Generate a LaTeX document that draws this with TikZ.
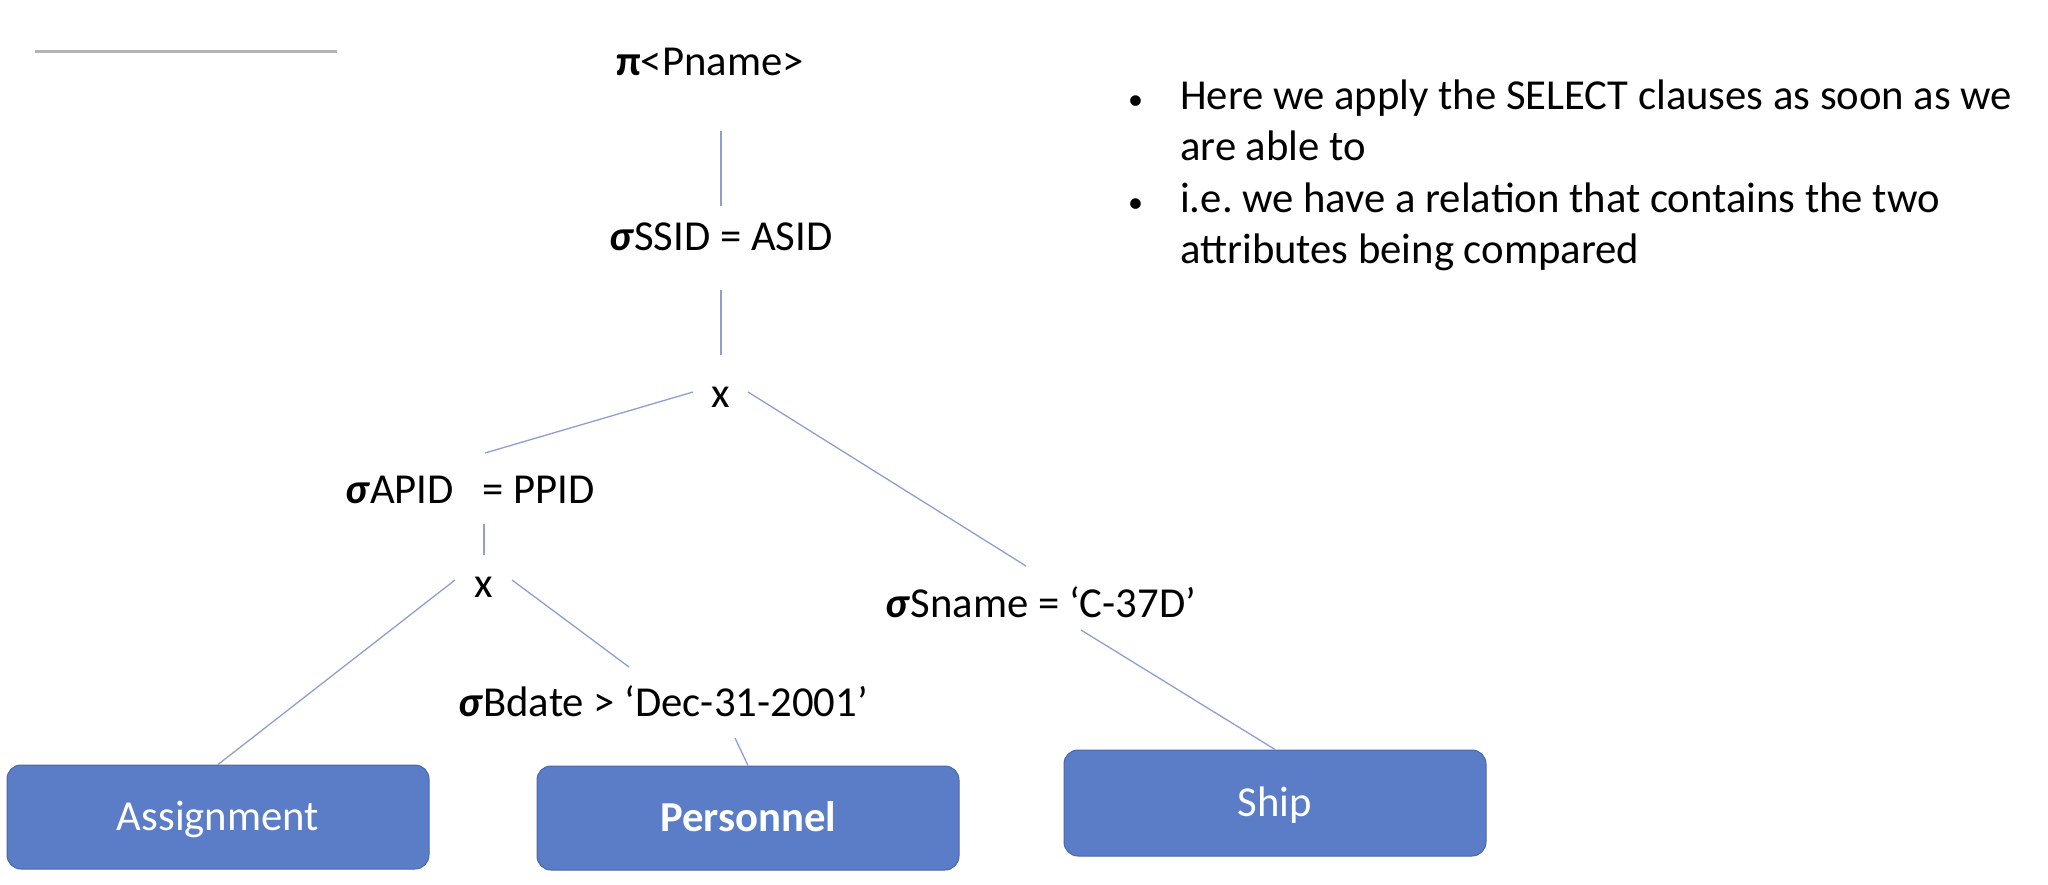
\documentclass[tikz,border=0pt]{standalone}
\usepackage{fontspec}
\setmainfont{Carlito}
\usetikzlibrary{shapes,arrows,positioning}

\definecolor{relfill}{HTML}{5B7CC6}
\definecolor{relborder}{HTML}{4A67A8}
\definecolor{linkcol}{HTML}{8E9FCF}
\definecolor{rulegray}{HTML}{B4B4B4}

\newcommand{\notebullet}{\makebox[56pt][l]{\hspace{4pt}\fontsize{30}{30}\selectfont\textbullet}}

\begin{document}
\frenchspacing
\begin{tikzpicture}[x=1pt, y=1pt,
    expr/.style={inner sep=0pt, anchor=base, font=\fontsize{42.7}{52}\selectfont},
    relation/.style={rectangle, rounded corners=14pt, draw=relborder, line width=1pt, fill=relfill, text=white, minimum width=422pt, minimum height=104pt, text height=27.5pt, text depth=0pt, font=\fontsize{42.7}{52}\selectfont},
    notes/.style={inner sep=0pt, anchor=base west, align=left, font=\fontsize{42.7}{51}\selectfont},
    link/.style={draw=linkcol, line width=1.3pt}]
    \useasboundingbox (0,0) rectangle (2048,-884);

    % title rule
    \draw[rulegray, line width=3pt] (35,-51) -- (337,-51);

    % Query tree
    \node[expr] (proj) at (710,-75) {\textbf{π}<Pname>};
    \node[expr] (selssid) at (721,-250) {\textbf{\textit{σ}}SSID = ASID};
    \node[expr] (crossA) at (721,-407) {x};
    \node[expr] (selapid) at (470,-503) {\textbf{\textit{σ}}APID\ \ \ = PPID};
    \node[expr] (crossB) at (484,-597) {x};
    \node[expr] (selbdate) at (663,-716) {\textbf{\textit{σ}}Bdate > ‘Dec-31-2001’};
    \node[expr] (selsname) at (1041,-617) {\textbf{\textit{σ}}Sname = ‘C-37D’};

    % Relations
    \node[relation] (assign) at (218,-817) {Assignment};
    \node[relation, right=107pt of assign, yshift=-1pt] (person) {\textbf{Personnel}};
    \node[relation, minimum height=106pt] (ship) at (1275,-803) {Ship};

    % Notes (base anchor sits on the last line)
    \node[notes] (note1) at (1124,-160) {\notebullet Here we apply the SELECT clauses as soon as we\\\hspace*{56pt}are able to};
    \node[notes] (note2) at (1124,-263) {\notebullet i.e. we have a relation that contains the two\\\hspace*{56pt}attributes being compared};

    % Edges
    \draw[link] ([xshift=11pt,yshift=-56pt]proj.base) -- ([yshift=44pt]selssid.base);
    \draw[link] ([yshift=-40pt]selssid.base) -- ([yshift=52pt]crossA.base);
    \draw[link] ([xshift=-28pt,yshift=15pt]crossA.base) -- ([xshift=15pt,yshift=50pt]selapid.base);
    \draw[link] ([xshift=27pt,yshift=15pt]crossA.base) -- ([xshift=-15pt,yshift=51pt]selsname.base);
    \draw[link] ([xshift=14pt,yshift=-21pt]selapid.base) -- ([yshift=42pt]crossB.base);
    \draw[link] ([xshift=-29pt,yshift=17pt]crossB.base) -- (assign.north);
    \draw[link] ([xshift=28pt,yshift=17pt]crossB.base) -- ([xshift=-34pt,yshift=49pt]selbdate.base);
    \draw[link] ([xshift=72pt,yshift=-22pt]selbdate.base) -- (person.north);
    \draw[link] ([xshift=40pt,yshift=-13pt]selsname.base) -- (ship.north);
\end{tikzpicture}
\end{document}
